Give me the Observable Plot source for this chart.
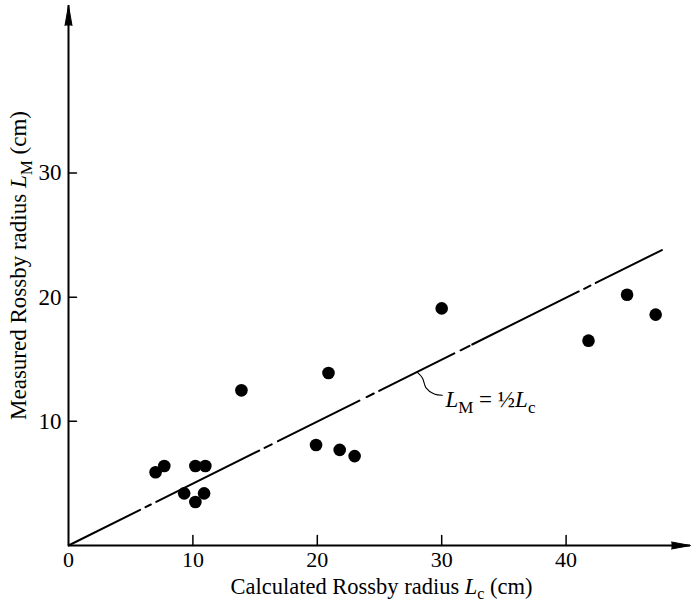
<!DOCTYPE html>
<html><head><meta charset="utf-8">
<script src="https://cdn.jsdelivr.net/npm/d3@7"></script>
<script src="https://cdn.jsdelivr.net/npm/@observablehq/plot@0.6"></script>
<style>body{margin:0;background:#fff} svg{display:block}</style>
</head><body><div id="chart"></div>
<script>
// Data
const calcLc = [7.0, 7.7, 10.2, 11.0, 9.3, 10.2, 10.9, 13.9, 19.9, 20.9, 21.8, 23.0, 30.0, 41.8, 44.9, 47.2];
const measLm = [5.9, 6.4, 6.4, 6.4, 4.2, 3.5, 4.2, 12.5, 8.1, 13.9, 7.7, 7.2, 19.1, 16.5, 20.2, 18.6];
// Reference line L_M = 1/2 L_c
const refLc = [0, 47.7];
const refLm = [0, 23.8];
// Tick labels
const xTickLabels = [0, 10, 20, 30, 40];
const xTicks = [10, 20, 30, 40];
const yTicks = [10, 20, 30];
// Annotation leader and label
const leaderLc = [28.05, 28.45, 28.74, 29.4, 30.05];
const leaderLm = [13.95, 13.5, 12.7, 12.2, 12.1];
const annoLc = [30.3];
const annoLm = [11.75];
const annoText = ["ANNO"];
const xTitle = ["XTITLE"];
const yTitle = ["YTITLE"];

const FONT = "Liberation Serif";
const tickShape = {draw(ctx, l) { ctx.moveTo(0, 0); ctx.lineTo(0, -l); }};

const chart = Plot.plot({
  width: 691,
  height: 604,
  marginLeft: 68,
  marginRight: 1,
  marginTop: 5,
  marginBottom: 59,
  x: {domain: [0, 50]},
  y: {domain: [0, 43.5]},
  style: {fontFamily: FONT, fontSize: "22px", color: "black", background: "white"},
  marks: [
    Plot.ruleY([0], {strokeWidth: 2}),
    Plot.ruleX([0], {strokeWidth: 2}),
    Plot.vector([50], {x: d => d, y: () => 0, rotate: 90, anchor: "end", length: 19, r: 3.5, shape: "spike", fill: "black", stroke: "black", strokeWidth: 1}),
    Plot.vector([43.5], {x: () => 0, y: d => d, rotate: 0, anchor: "end", length: 20, r: 3.5, shape: "spike", fill: "black", stroke: "black", strokeWidth: 1}),
    Plot.vector(xTicks, {x: d => d, y: () => 0, rotate: 0, anchor: "start", length: 10, shape: tickShape, stroke: "black", strokeWidth: 1.5}),
    Plot.vector(yTicks, {x: () => 0, y: d => d, rotate: 90, anchor: "start", length: 8, shape: tickShape, stroke: "black", strokeWidth: 1.5}),
    Plot.axisX(xTickLabels, {tickSize: 0, tickPadding: 6, label: null, fontSize: 22}),
    Plot.axisY(yTicks, {tickSize: 0, tickPadding: 7, label: null, fontSize: 23}),
    Plot.line(refLc, {x: refLc, y: refLm, stroke: "black", strokeWidth: 2,
      strokeDasharray: "80,6,6,6,115,6,8,7,91,8,8,6,84,7,10,3,119,6,7,6,90"}),
    Plot.line(leaderLc, {x: leaderLc, y: leaderLm, curve: "catmull-rom", stroke: "black", strokeWidth: 1.1}),
    Plot.dot(calcLc, {x: calcLc, y: measLm, r: 6.3, fill: "black", stroke: null}),
    Plot.text(annoText, {x: annoLc, y: annoLm, textAnchor: "start", lineAnchor: "middle", fontSize: 23}),
    Plot.text(xTitle, {frameAnchor: "bottom", lineAnchor: "middle", textAnchor: "middle", dx: 2, dy: 41, fontSize: 22.5}),
    Plot.text(yTitle, {frameAnchor: "left", lineAnchor: "middle", textAnchor: "middle", rotate: -90, dx: -50, dy: -10, fontSize: 23})
  ]
});

function rich(svg, key, parts, fs, k) {
  const sub = Math.round(fs * k);
  d3.select(svg).selectAll("text").filter(function() { return this.textContent === key; }).each(function() {
    const t = d3.select(this);
    t.text(null);
    let shifted = false;
    for (const p of parts) {
      const s = t.append("tspan").text(p.t);
      if (p.i) s.attr("font-style", "italic");
      if (p.sub) { s.attr("font-size", Math.round(fs * 0.72)).attr("dy", sub); shifted = true; }
      else if (shifted) { s.attr("dy", -sub); shifted = false; }
    }
  });
}
rich(chart, "XTITLE", [{t: "Calculated Rossby radius "}, {t: "L", i: true}, {t: "c", sub: true}, {t: " (cm)"}], 22.5, 0.22);
rich(chart, "YTITLE", [{t: "Measured Rossby radius "}, {t: "L", i: true}, {t: "M", sub: true}, {t: " (cm)"}], 23, 0.28);
rich(chart, "ANNO", [{t: "L", i: true}, {t: "M", sub: true}, {t: " = ½"}, {t: "L", i: true}, {t: "c", sub: true}], 23, 0.28);

document.getElementById("chart").append(chart);
</script>
</body></html>
